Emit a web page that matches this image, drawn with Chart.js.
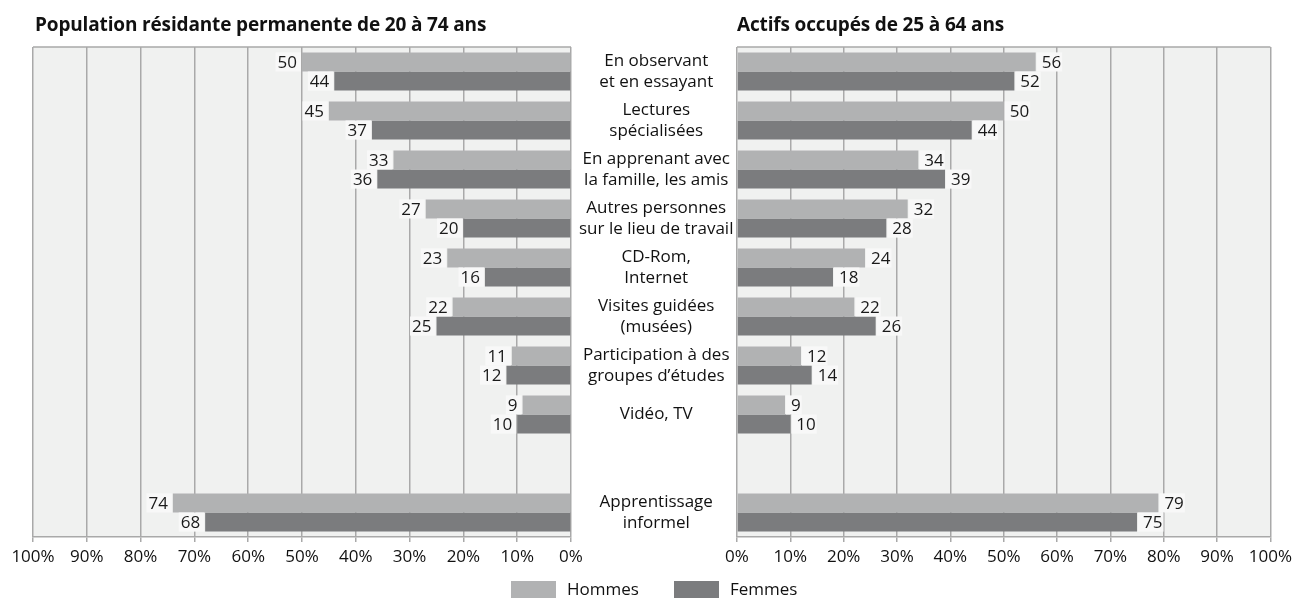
<!DOCTYPE html>
<html>
<head>
<meta charset="utf-8">
<script src="https://cdn.jsdelivr.net/npm/chart.js@4.4.0/dist/chart.umd.min.js"></script>
<style>
body{margin:0;background:#fff;font-family:"Open Sans",sans-serif;color:#111}
#wrap{position:relative;width:1297px;height:599px;overflow:hidden}
canvas{position:absolute;left:0;top:0}
.title{position:absolute;top:12px;font-weight:bold;font-size:19px;line-height:25px;white-space:nowrap;letter-spacing:-0.15px}
.sw{position:absolute;top:581px;width:45px;height:17px}
.lg{position:absolute;top:578px;font-size:17px;line-height:22px}
</style>
</head>
<body>
<div id="wrap">
  <canvas id="leftChart" width="1297" height="599"></canvas>
  <canvas id="rightChart" width="1297" height="599"></canvas>
  <div class="title" style="left:35px">Population résidante permanente de 20 à 74 ans</div>
  <div class="title" style="left:737px">Actifs occupés de 25 à 64 ans</div>
  <div class="sw" style="left:511px;background:#b1b2b3"></div>
  <div class="lg" style="left:567px">Hommes</div>
  <div class="sw" style="left:674px;background:#7b7c7e"></div>
  <div class="lg" style="left:730px">Femmes</div>
</div>
<script>
const categories = [
  ["En observant","et en essayant"],
  ["Lectures","spécialisées"],
  ["En apprenant avec","la famille, les amis"],
  ["Autres personnes","sur le lieu de travail"],
  ["CD-Rom,","Internet"],
  ["Visites guidées","(musées)"],
  ["Participation à des","groupes d’études"],
  "Vidéo, TV",
  "",
  ["Apprentissage","informel"]
];

const popHommes = [50,45,33,27,23,22,11,9,null,74];
const popFemmes = [44,37,36,20,16,25,12,10,null,68];
const actHommes = [56,50,34,32,24,22,12,9,null,79];
const actFemmes = [52,44,39,28,18,26,14,10,null,75];

const xTicks = [0,10,20,30,40,50,60,70,80,90,100];

const colHommes = "#b1b2b3";
const colFemmes = "#7b7c7e";
const gridCol = "#a9a9a9";
const FONT = '"Open Sans", sans-serif';

const plotBg = {
  id:"plotBg",
  beforeDraw(chart){
    const {ctx, chartArea:a} = chart;
    ctx.save();
    ctx.fillStyle = "#f0f1f0";
    ctx.fillRect(a.left, a.top, a.right-a.left, a.bottom-a.top);
    ctx.restore();
  },
  beforeDatasetsDraw(chart){
    const {ctx, chartArea:a} = chart;
    ctx.save();
    ctx.strokeStyle = gridCol;
    ctx.lineWidth = 1.5;
    ctx.beginPath();
    ctx.moveTo(a.left, a.top);
    ctx.lineTo(a.right, a.top);
    ctx.stroke();
    ctx.restore();
  }
};

const valueLabels = {
  id:"valueLabels",
  afterDatasetsDraw(chart, args, opts){
    const ctx = chart.ctx;
    ctx.save();
    ctx.font = "17px " + FONT;
    ctx.textBaseline = "middle";
    ctx.textAlign = "left";
    chart.data.datasets.forEach((ds,i)=>{
      chart.getDatasetMeta(i).data.forEach((bar,j)=>{
        const v = ds.data[j];
        if(v==null) return;
        const txt = String(v);
        const w = ctx.measureText(txt).width;
        const h = bar.height;
        const x0 = opts.side==="left" ? bar.x - w - 7 : bar.x + 1;
        ctx.fillStyle = "#f8f8f8";
        ctx.fillRect(x0, bar.y-h/2, w+6, h);
        ctx.fillStyle = "#1a1a1a";
        ctx.fillText(txt, x0 + (opts.side==="left" ? 2 : 5), bar.y+1);
      });
    });
    ctx.restore();
  }
};

function makeChart(id, side, hommes, femmes){
  const left = side==="left";
  return new Chart(document.getElementById(id).getContext("2d"),{
    type:"bar",
    data:{
      labels:categories,
      datasets:[
        {label:"Hommes",data:hommes,backgroundColor:colHommes},
        {label:"Femmes",data:femmes,backgroundColor:colFemmes}
      ]
    },
    options:{
      indexAxis:"y",
      responsive:false,
      animation:false,
      layout:{
        autoPadding:false,
        padding: left ? {left:33,right:560,top:47,bottom:0} : {left:737,right:21,top:47,bottom:0}
      },
      datasets:{bar:{categoryPercentage:0.78,barPercentage:1}},
      plugins:{
        legend:{display:false},
        tooltip:{enabled:false},
        valueLabels:{side}
      },
      scales:{
        x:{
          min:0,max:100,reverse:left,
          afterBuildTicks(s){ s.ticks = xTicks.map(v=>({value:v})); },
          afterFit(s){ s.height = 62; },
          ticks:{callback:v=>v+"%",color:"#111",font:{family:FONT,size:17},padding:5,maxRotation:0,autoSkip:false},
          grid:{color:gridCol,lineWidth:1.5,tickLength:5},
          border:{color:gridCol,width:1.5}
        },
        y:{
          display:left,
          position: left ? "right" : "left",
          afterFit(s){ s.width = left ? 166 : 0; },
          grid:{display:false},
          border:{display:false},
          ticks:{crossAlign:"center",color:"#111",padding:0,autoSkip:false,font:{family:FONT,size:17,lineHeight:1.25}}
        }
      }
    },
    plugins:[plotBg,valueLabels]
  });
}

makeChart("leftChart","left",popHommes,popFemmes);
makeChart("rightChart","right",actHommes,actFemmes);
</script>
</body>
</html>
